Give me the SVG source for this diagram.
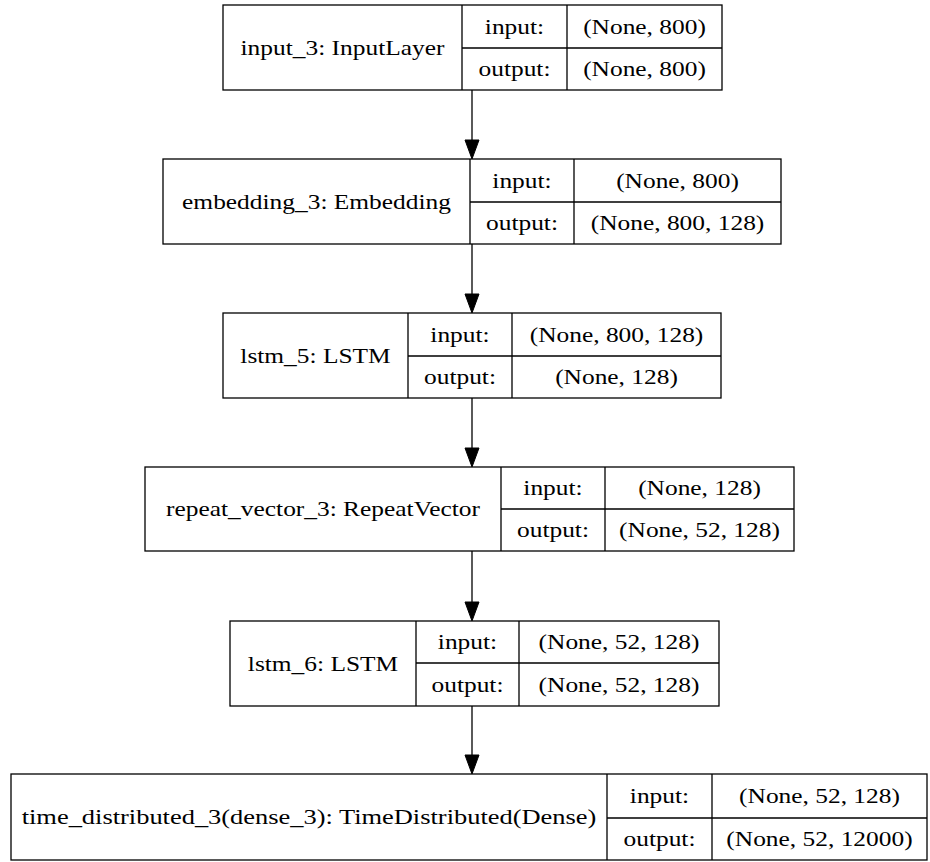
<svg xmlns="http://www.w3.org/2000/svg" width="930" height="862" viewBox="0 0 930 862">
<style>
.b{fill:#fff;stroke:#000;stroke-width:1.3}
.l{fill:none;stroke:#000;stroke-width:1.3}
text{font-family:"Liberation Serif","Times New Roman",serif;font-size:20.5px;fill:#000;text-anchor:middle}
.e{fill:none;stroke:#000;stroke-width:1.3}
.h{fill:#000;stroke:#000;stroke-width:1}
</style>
<rect width="930" height="862" fill="#fff"/>
<g id="connectors">
<line class="e" x1="472" y1="90" x2="472" y2="141"/><polygon class="h" points="465,140 479,140 472,159"/>
<line class="e" x1="472" y1="244" x2="472" y2="295"/><polygon class="h" points="465,294 479,294 472,313"/>
<line class="e" x1="472" y1="398" x2="472" y2="449"/><polygon class="h" points="465,448 479,448 472,467"/>
<line class="e" x1="472" y1="551" x2="472" y2="603"/><polygon class="h" points="465,602 479,602 472,621"/>
<line class="e" x1="472" y1="706" x2="472" y2="756"/><polygon class="h" points="465,755 479,755 472,774"/>
</g>
<g id="input_3">
<rect class="b" x="223" y="5" width="499" height="85"/>
<path class="l" d="M462,5V90M567,5V90M462,48H722"/>
<text transform="translate(342.5,54.5) scale(1.24,1)">input_3: InputLayer</text>
<text transform="translate(514.5,33.5) scale(1.24,1)">input:</text>
<text transform="translate(514.5,76) scale(1.24,1)">output:</text>
<text transform="translate(644.5,33.5) scale(1.24,1)">(None, 800)</text>
<text transform="translate(644.5,76) scale(1.24,1)">(None, 800)</text>
</g>
<g id="embedding_3">
<rect class="b" x="163" y="159" width="618" height="85"/>
<path class="l" d="M470,159V244M574,159V244M470,202H781"/>
<text transform="translate(316.5,208.5) scale(1.24,1)">embedding_3: Embedding</text>
<text transform="translate(522,187.5) scale(1.24,1)">input:</text>
<text transform="translate(522,230) scale(1.24,1)">output:</text>
<text transform="translate(677.5,187.5) scale(1.24,1)">(None, 800)</text>
<text transform="translate(677.5,230) scale(1.24,1)">(None, 800, 128)</text>
</g>
<g id="lstm_5">
<rect class="b" x="223" y="313" width="498" height="85"/>
<path class="l" d="M408,313V398M512,313V398M408,356H721"/>
<text transform="translate(315.5,362.5) scale(1.24,1)">lstm_5: LSTM</text>
<text transform="translate(460,341.5) scale(1.24,1)">input:</text>
<text transform="translate(460,384) scale(1.24,1)">output:</text>
<text transform="translate(616.5,341.5) scale(1.24,1)">(None, 800, 128)</text>
<text transform="translate(616.5,384) scale(1.24,1)">(None, 128)</text>
</g>
<g id="repeat_vector_3">
<rect class="b" x="145" y="467" width="649" height="84"/>
<path class="l" d="M501,467V551M605,467V551M501,509H794"/>
<text transform="translate(323,516) scale(1.24,1)">repeat_vector_3: RepeatVector</text>
<text transform="translate(553,495) scale(1.24,1)">input:</text>
<text transform="translate(553,537) scale(1.24,1)">output:</text>
<text transform="translate(699.5,495) scale(1.24,1)">(None, 128)</text>
<text transform="translate(699.5,537) scale(1.24,1)">(None, 52, 128)</text>
</g>
<g id="lstm_6">
<rect class="b" x="230" y="621" width="489" height="85"/>
<path class="l" d="M416,621V706M519,621V706M416,663H719"/>
<text transform="translate(323,670.5) scale(1.24,1)">lstm_6: LSTM</text>
<text transform="translate(467.5,649) scale(1.24,1)">input:</text>
<text transform="translate(467.5,691.5) scale(1.24,1)">output:</text>
<text transform="translate(619,649) scale(1.24,1)">(None, 52, 128)</text>
<text transform="translate(619,691.5) scale(1.24,1)">(None, 52, 128)</text>
</g>
<g id="time_distributed_3">
<rect class="b" x="11" y="774" width="916" height="86"/>
<path class="l" d="M607,774V860M712,774V860M607,818H927"/>
<text transform="translate(309,824) scale(1.29,1)">time_distributed_3(dense_3): TimeDistributed(Dense)</text>
<text transform="translate(659.5,803) scale(1.24,1)">input:</text>
<text transform="translate(659.5,846) scale(1.24,1)">output:</text>
<text transform="translate(819.5,803) scale(1.24,1)">(None, 52, 128)</text>
<text transform="translate(819.5,846) scale(1.24,1)">(None, 52, 12000)</text>
</g>
</svg>
